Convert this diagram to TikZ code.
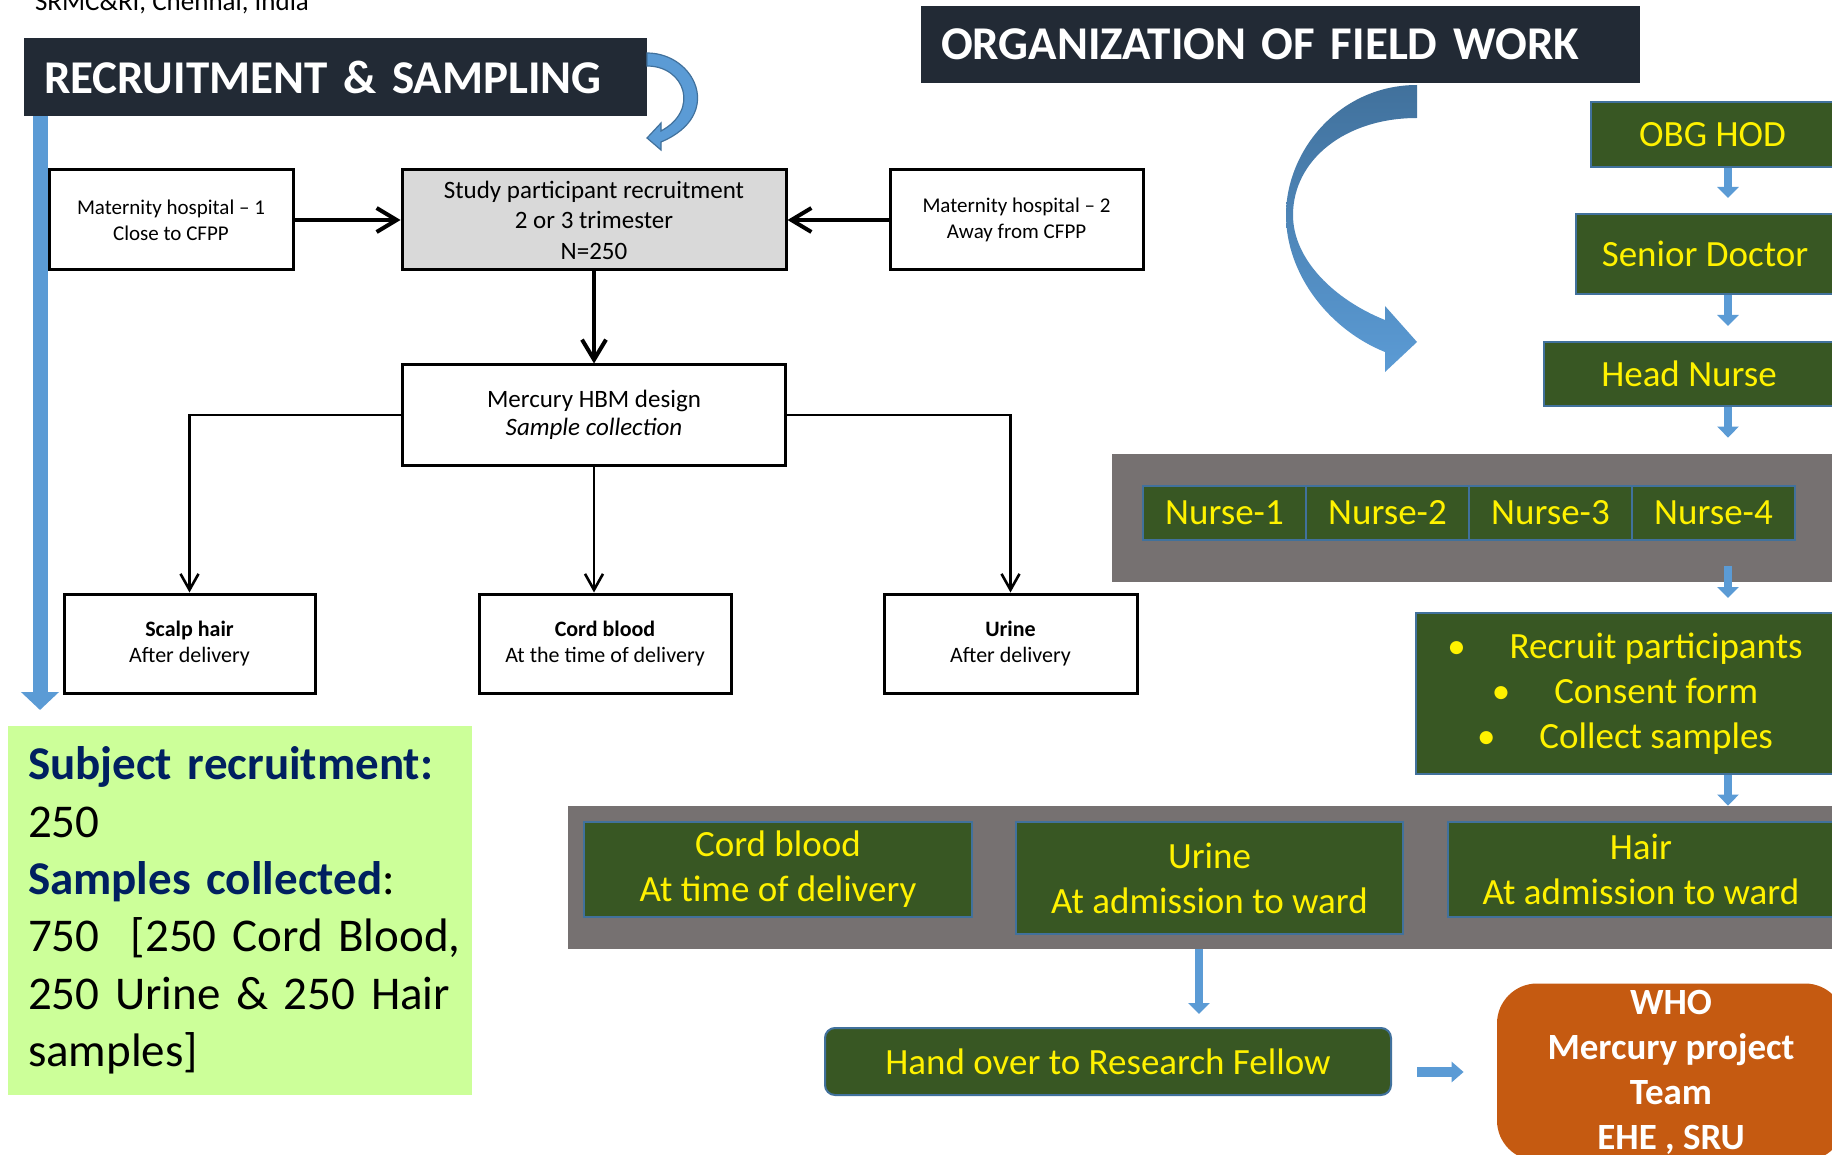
\documentclass[tikz,border=0pt]{standalone}
\usepackage{fontspec}
\setmainfont{Carlito}
\usetikzlibrary{arrows.meta, positioning}

\definecolor{darkbar}{HTML}{222A35}
\definecolor{boxgreen}{HTML}{385723}
\definecolor{boxedge}{HTML}{41719C}
\definecolor{flowblue}{HTML}{5B9BD5}
\definecolor{bandgray}{HTML}{767171}
\definecolor{studygray}{HTML}{D9D9D9}
\definecolor{notegreen}{HTML}{CCFF99}
\definecolor{navy}{HTML}{002060}
\definecolor{whoorange}{HTML}{C55A11}

\begin{document}
\begin{tikzpicture}[x=0.5pt, y=-0.5pt,
    titlebar/.style={rectangle, fill=darkbar, text=white, inner xsep=10pt, inner ysep=0pt, align=left, font=\fontsize{23.5}{28}\selectfont\bfseries},
    plainbox/.style={rectangle, draw, line width=1.5pt, fill=white, inner sep=0pt, align=center, minimum height=50pt},
    greenbox/.style={rectangle, draw=boxedge, line width=1pt, fill=boxgreen, text=yellow, inner sep=0pt, align=center, font=\fontsize{18.5}{22.5}\selectfont},
    nursebox/.style={greenbox, minimum width=81.5pt, minimum height=27pt, outer sep=0pt},
    grayband/.style={rectangle, fill=bandgray, inner sep=0pt},
    bigarrow/.style={line width=2pt, -{Straight Barb[length=10pt, width=12pt]}},
    thinarrow/.style={line width=1.3pt, -{Straight Barb[length=8pt, width=9pt]}},
    flowarrow/.style={draw=flowblue, line width=4pt, -{Triangle[width=10.5pt, length=5.5pt]}}]

    \useasboundingbox (0,0) rectangle (1832,1155);
    \fill[white] (0,0) rectangle (1832,1155);

    % headings
    \node[anchor=base west, font=\fontsize{13.5}{16}\selectfont] (inst) at (28,11) {SRMC\&RI, Chennai, India};
    \node[titlebar, text width=291.5pt, minimum height=39pt] (title1) at (335.5,77) {RECRUITMENT \& SAMPLING};
    \node[titlebar, text width=339.5pt, minimum height=38.5pt] (title2) at (1280.5,44.5) {ORGANIZATION OF FIELD WORK};

    % recruitment and sampling
    \node[plainbox, minimum width=122pt, font=\fontsize{10.5}{13}\selectfont] (mh1) at (171,220) {Maternity hospital -- 1\\Close to CFPP};
    \node[plainbox, fill=studygray, minimum width=192pt, font=\fontsize{12.5}{15.25}\selectfont] (study) at (594,220) {Study participant recruitment\\2 or 3 trimester\\N=250};
    \node[plainbox, minimum width=126.5pt, font=\fontsize{10.5}{13}\selectfont] (mh2) at (1016.5,220) {Maternity hospital -- 2\\Away from CFPP};
    \node[plainbox, minimum width=191.5pt, font=\fontsize{12.5}{14}\selectfont] (mercury) at (594,415) {Mercury HBM design\\\textit{Sample collection}};
    \node[plainbox, minimum width=125.5pt, minimum height=49.5pt, font=\fontsize{11}{13}\selectfont] (scalp) at (189.5,643.5) {\textbf{Scalp hair}\\After delivery};
    \node[plainbox, minimum width=126pt, minimum height=49.5pt, font=\fontsize{11}{13}\selectfont] (cord) at (605,643.5) {\textbf{Cord blood}\\At the time of delivery};
    \node[plainbox, minimum width=126.5pt, minimum height=49.5pt, font=\fontsize{11}{13}\selectfont] (urine) at (1010.5,643.5) {\textbf{Urine}\\After delivery};

    \draw[bigarrow] (mh1) -- (study);
    \draw[bigarrow] (mh2) -- (study);
    \draw[bigarrow] (study) -- (mercury);
    \draw[thinarrow] (mercury.west) -| (scalp.north);
    \draw[thinarrow] (mercury.east) -| (urine.north);
    \draw[thinarrow] (mercury.south) -- (mercury.south |- cord.north);

    \coordinate (leftend) at (40,710);
    \draw[draw=flowblue, line width=7.5pt, -{Triangle[width=18.5pt, length=9pt]}] (title1.south -| leftend) -- (leftend);
    \filldraw[fill=flowblue, draw=boxedge, line width=0.6pt] (647,53) .. controls (695,53) and (725,115) .. (661,142) -- (661,150) -- (647,138) -- (661,123) -- (661,131) .. controls (700,110) and (685,66) .. (647,66) -- cycle;

    \node[rectangle, fill=notegreen, text width=212pt, inner xsep=10pt, inner ysep=0pt, minimum height=184.5pt, align=left, font=\fontsize{23.5}{28.7}\selectfont] (summary) at (240,910.5)
        {\mbox{\color{navy}\bfseries Subject recruitment:}\\250\\\mbox{{\color{navy}\bfseries Samples collected}:}\\\mbox{750\ \ [250 Cord Blood,}\\\mbox{250 Urine \& 250 Hair}\\samples]};

    % field work
    \shade[top color=boxedge, bottom color=flowblue] (1417,85) .. controls (1340,85) and (1286,150) .. (1286,215) .. controls (1286,275) and (1330,330) .. (1385,352) -- (1385,372) -- (1417,342) -- (1385,306) -- (1385,320) .. controls (1335,300) and (1293,260) .. (1293,215) .. controls (1293,160) and (1345,118) .. (1417,118) -- cycle;

    \node[greenbox, minimum width=121.5pt, minimum height=32.5pt] (obg) at (1712.5,134.5) {OBG HOD};
    \node[greenbox, minimum width=129pt, minimum height=40pt] (senior) at (1705,254) {Senior Doctor};
    \node[greenbox, minimum width=145pt, minimum height=32pt] (headnurse) at (1689,374) {Head Nurse};
    \node[grayband, minimum width=364pt, minimum height=64pt] (nurseband) at (1476,518) {};
    \node[nursebox] (n1) at (1224.5,513) {Nurse-1};
    \node[nursebox, right=0pt of n1] (n2) {Nurse-2};
    \node[nursebox, right=0pt of n2] (n3) {Nurse-3};
    \node[nursebox, right=0pt of n3] (n4) {Nurse-4};
    \node[greenbox, minimum width=209pt, minimum height=80.5pt] (recruit) at (1625,693.5)
        {\textbullet\hspace{22pt}Recruit participants\\\textbullet\hspace{22pt}Consent form\\\textbullet\hspace{22pt}Collect samples};

    \node[grayband, minimum width=636pt, minimum height=71.5pt] (sampleband) at (1204,877.5) {};
    \node[greenbox, minimum width=194pt, minimum height=47.5pt] (cordw) at (778,869.5) {Cord blood\\At time of delivery};
    \node[greenbox, minimum width=193.5pt, minimum height=56pt] (urinew) at (1209.5,878) {Urine\\At admission to ward};
    \node[greenbox, minimum width=193pt, minimum height=47.5pt] (hairw) at (1641,869.5) {Hair\\At admission to ward};

    \node[greenbox, rounded corners=5pt, minimum width=283pt, minimum height=33.5pt] (handover) at (1108,1061.5) {Hand over to Research Fellow};
    \node[rectangle, rounded corners=20pt, fill=whoorange, text=white, inner sep=0pt, align=center, minimum width=174pt, minimum height=88.5pt, font=\fontsize{18.5}{22.5}\selectfont\bfseries] (who) at (1671,1072) {WHO\\Mercury project\\Team\\EHE , SRU};

    \coordinate (colx) at (1728,0);
    \coordinate (handx) at (1199,0);
    \draw[flowarrow, shorten >=7.5pt] (obg.south -| colx) -- (senior.north -| colx);
    \draw[flowarrow, shorten >=7.5pt] (senior.south -| colx) -- (headnurse.north -| colx);
    \draw[flowarrow, shorten >=8pt] (headnurse.south -| colx) -- (nurseband.north -| colx);
    \draw[flowarrow, shorten <=13pt, shorten >=7pt] (n4.south -| colx) -- (recruit.north -| colx);
    \draw[flowarrow] (recruit.south -| colx) -- (sampleband.north -| colx);
    \draw[flowarrow, shorten >=6.5pt] (sampleband.south -| handx) -- (handover.north -| handx);
    \draw[draw=flowblue, line width=5pt, -{Triangle[width=10pt, length=6pt]}, shorten <=12.5pt, shorten >=16.5pt] (handover.east |- who.west) -- (who.west);
\end{tikzpicture}
\end{document}
